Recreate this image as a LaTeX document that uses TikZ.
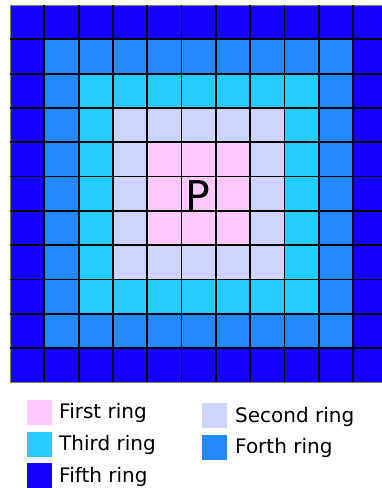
\documentclass[tikz,border=0pt]{standalone}
\usepackage{fontspec}
\setmainfont{DejaVu Sans}
\usepackage{tikz}
\usetikzlibrary{positioning}
\definecolor{ringc0}{RGB}{255, 200, 255}
\definecolor{ringc1}{RGB}{255, 200, 255}
\definecolor{ringc2}{RGB}{204, 212, 255}
\definecolor{ringc3}{RGB}{36, 204, 255}
\definecolor{ringc4}{RGB}{36, 136, 255}
\definecolor{ringc5}{RGB}{20, 0, 255}

\tikzset{
  keybox/.style={minimum size=25pt, inner sep=0pt, anchor=north west},
  keytext/.style={anchor=base west, inner sep=0pt, font=\fontsize{20}{24}\selectfont},
}

\begin{document}
\begin{tikzpicture}[x=1pt, y=-1pt]
    \useasboundingbox (0,0) rectangle (382,488);

    % Cells, coloured by ring
    \foreach \i in {0,...,10}{
      \foreach \j in {0,...,10}{
        \pgfmathtruncatemacro{\r}{max(abs(\i-5),abs(\j-5))}
        \fill[ringc\r] ({10+34.3*\i},{5+34.3*\j}) rectangle ++(34.3,34.3);
      }
    }

    % Frame and grid lines
    \draw[gray, line width=1pt] (10,5) rectangle (387.3,382.3);
    \foreach \k in {1,...,10}{
      \draw[black, line width=1.8pt] ({10+34.3*\k},5) -- ({10+34.3*\k},382.3);
      \draw[black, line width=1.8pt] (10,{5+34.3*\k}) -- (387.3,{5+34.3*\k});
    }

    % Centre label
    \node[anchor=base west, inner sep=0pt, font=\fontsize{41}{48}\selectfont] (p) at (185.5,210) {P};

    % Legend
    \node[keybox, fill=ringc1] (key1) at (27,400) {};
    \node[keytext] (lab1) at (59,418.5) {First ring};
    \node[keybox, fill=ringc2] (key2) at (202,403) {};
    \node[keytext] (lab2) at (235,422) {Second ring};
    \node[keybox, fill=ringc3] (key3) at (27,431.5) {};
    \node[keytext] (lab3) at (59,450) {Third ring};
    \node[keybox, fill=ringc4] (key4) at (202,434.5) {};
    \node[keytext] (lab4) at (235,453) {Forth ring};
    \node[keybox, fill=ringc5] (key5) at (27,463) {};
    \node[keytext] (lab5) at (59,482) {Fifth ring};

\end{tikzpicture}
\end{document}
